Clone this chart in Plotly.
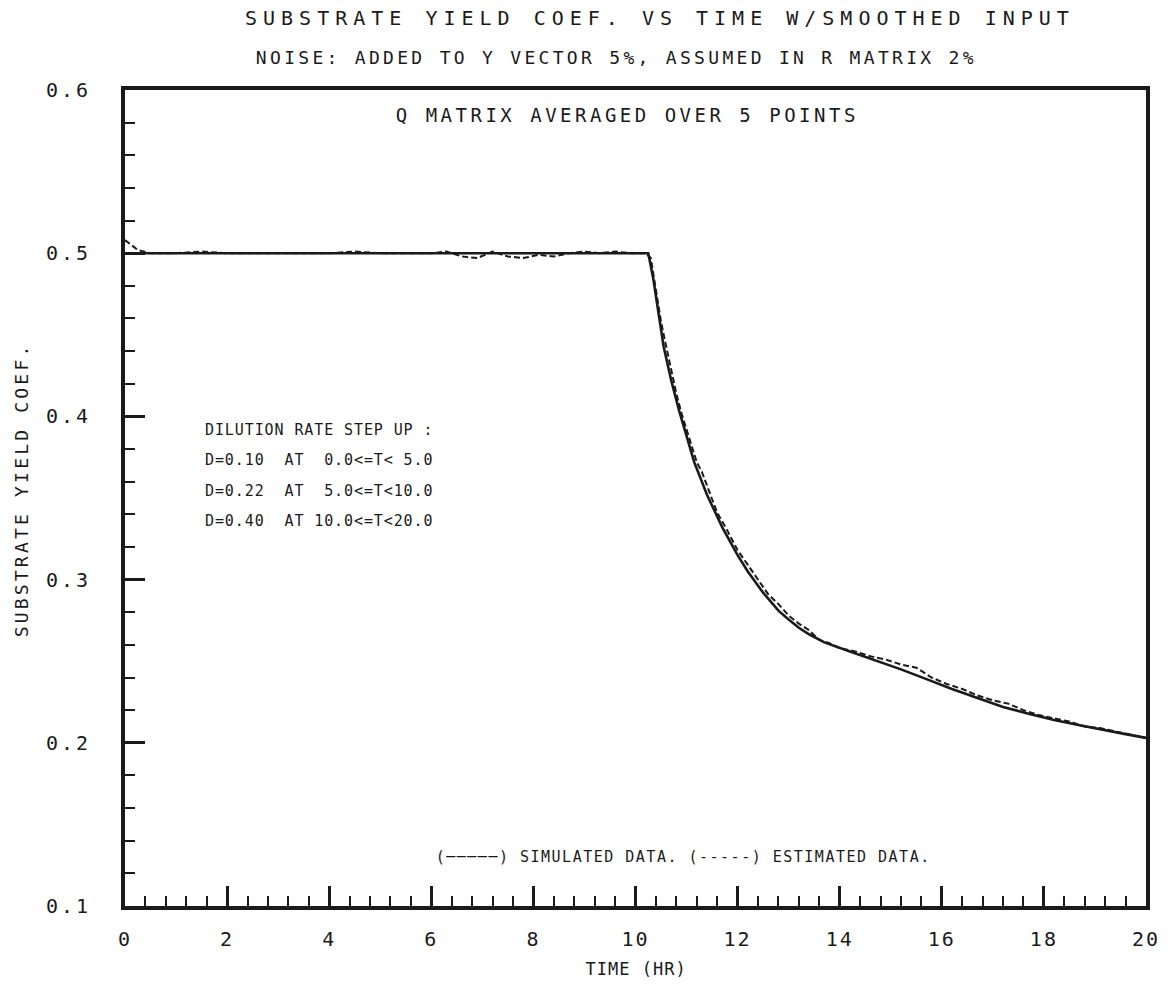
import json
import plotly.graph_objects as go

# Simulated substrate yield coefficient (solid curve)
sim_t = [0.0, 10.25, 10.35, 10.45, 10.55, 10.7, 10.85, 11.0, 11.15, 11.4, 11.7,
         12.0, 12.2, 12.5, 12.8, 13.0, 13.2, 13.4, 13.7, 14.2, 14.7, 15.2, 15.7, 16.2,
         16.7, 17.2, 17.7, 18.2, 18.7, 19.2, 19.6, 20.0]
sim_y = [0.500, 0.500, 0.484, 0.464, 0.443, 0.422, 0.404, 0.388, 0.372, 0.352, 0.332,
         0.315, 0.305, 0.292, 0.281, 0.2755, 0.2705, 0.2665, 0.2615, 0.2560, 0.2505,
         0.245, 0.239, 0.233, 0.2275, 0.222, 0.2178, 0.214, 0.2108, 0.208, 0.2053, 0.203]

# Estimated substrate yield coefficient (dashed curve)
est_t = [0.0, 0.25, 0.5, 1.0, 1.5, 2.0, 2.5, 3.0, 3.5, 4.0, 4.5, 5.0, 5.5, 6.0, 6.3, 6.6,
         6.9, 7.2, 7.5, 7.8, 8.1, 8.4, 8.7, 9.0, 9.3, 9.6, 9.9, 10.2, 10.3, 10.4, 10.5,
         10.6, 10.7, 10.8, 10.9, 11.0, 11.1, 11.2, 11.3, 11.4, 11.5, 11.6, 11.8, 12.0,
         12.2, 12.4, 12.6, 12.8, 13.0, 13.2, 13.4, 13.6, 13.8, 14.0, 14.3, 14.6, 14.9,
         15.2, 15.5, 15.8, 16.1, 16.4, 16.7, 17.0, 17.3, 17.6, 17.9, 18.2, 18.5, 18.8,
         19.1, 19.4, 19.7, 20.0]
est_y = [0.508, 0.502, 0.500, 0.500, 0.501, 0.500, 0.500, 0.500, 0.500, 0.500, 0.501,
         0.500, 0.500, 0.500, 0.501, 0.498, 0.497, 0.501, 0.498, 0.497, 0.499, 0.498,
         0.500, 0.501, 0.500, 0.501, 0.500, 0.500, 0.497, 0.478, 0.458, 0.443, 0.428,
         0.414, 0.402, 0.392, 0.381, 0.372, 0.366, 0.358, 0.350, 0.341, 0.330, 0.318,
         0.309, 0.300, 0.291, 0.285, 0.278, 0.273, 0.269, 0.263, 0.261, 0.258, 0.256,
         0.253, 0.251, 0.248, 0.246, 0.240, 0.236, 0.233, 0.229, 0.226, 0.224, 0.220,
         0.217, 0.215, 0.213, 0.210, 0.209, 0.207, 0.205, 0.203]

title_lines = ["SUBSTRATE YIELD COEF. VS TIME W/SMOOTHED INPUT",
               "NOISE: ADDED TO Y VECTOR 5%, ASSUMED IN R MATRIX 2%"]
subtitle = "Q MATRIX AVERAGED OVER 5 POINTS"
dilution_lines = ["DILUTION RATE STEP UP :",
                  "D=0.10  AT  0.0<=T< 5.0",
                  "D=0.22  AT  5.0<=T<10.0",
                  "D=0.40  AT 10.0<=T<20.0"]
legend_text = "(\u2500\u2500\u2500\u2500\u2500) SIMULATED DATA. (-----) ESTIMATED DATA."
x_title = "TIME (HR)"
y_title = "SUBSTRATE YIELD COEF."

FONT = "DejaVu Sans Mono"
INK = "#1a1a1a"

fig = go.Figure()
fig.add_trace(go.Scatter(x=sim_t, y=sim_y, mode="lines",
                         line=dict(color=INK, width=2.6), showlegend=False))
fig.add_trace(go.Scatter(x=est_t, y=est_y, mode="lines",
                         line=dict(color=INK, width=2, dash="6px,3px"), showlegend=False))

axis_common = dict(showline=True, linecolor=INK, linewidth=3.8, mirror=True,
                   showgrid=False, zeroline=False, ticks="inside", tickcolor=INK)

fig.update_xaxes(range=[0, 20], dtick=2, tick0=0, ticklen=20, tickwidth=2.5,
                 minor=dict(dtick=0.4, ticks="inside", ticklen=10, tickwidth=2, tickcolor=INK),
                 tickfont=dict(family=FONT, size=20, color=INK), ticklabelstandoff=12,
                 **axis_common)
fig.update_yaxes(range=[0.1, 0.6], dtick=0.1, tick0=0.1, tickformat=".1f", ticklen=20,
                 tickwidth=2.5,
                 minor=dict(dtick=0.02, ticks="inside", ticklen=10, tickwidth=2, tickcolor=INK),
                 tickfont=dict(family=FONT, size=20, color=INK), ticklabelstandoff=26,
                 **axis_common)

spacing = {}


def note(text, x, y, size, gap, xanchor="center", angle=0):
    shown = text.replace("  ", "\u00a0\u00a0")
    spacing[shown] = gap
    fig.add_annotation(text=shown, x=x, y=y, xref="paper", yref="paper",
                       xanchor=xanchor, yanchor="middle", showarrow=False,
                       textangle=angle, align="left" if xanchor == "left" else "center",
                       font=dict(family=FONT, size=size, color=INK))


note(title_lines[0], 0.524, 1.088, 20, 6.0)
note(title_lines[1], 0.481, 1.040, 18, 3.3)
note(subtitle, 0.492, 0.969, 19, 3.5)
for i, line in enumerate(dilution_lines):
    note(line, 0.076, 0.583 - i * 0.037, 15, 0.9, xanchor="left")
note(legend_text, 0.547, 0.060, 15, 1.5)
note(x_title, 0.5, -0.077, 17, 1.0)
note(y_title, -0.101, 0.51, 18, 3.2, angle=-90)

fig.update_layout(width=1174, height=1000, paper_bgcolor="white", plot_bgcolor="white",
                  margin=dict(l=125, r=28, t=90, b=94), showlegend=False)

# Wider character spacing for the plotter-style lettering
post = """
var gd = document.getElementById('{plot_id}');
var gaps = %s;
gd.querySelectorAll('text').forEach(function (t) {
  var g = gaps[t.textContent];
  if (g !== undefined) { t.style.letterSpacing = g + 'px'; }
});
gd.querySelectorAll('.xtick text').forEach(function (t) { t.style.letterSpacing = '2px'; });
gd.querySelectorAll('.ytick text').forEach(function (t) { t.style.letterSpacing = '3px'; });
""" % json.dumps(spacing)

fig.write_html("out.html", post_script=post)
